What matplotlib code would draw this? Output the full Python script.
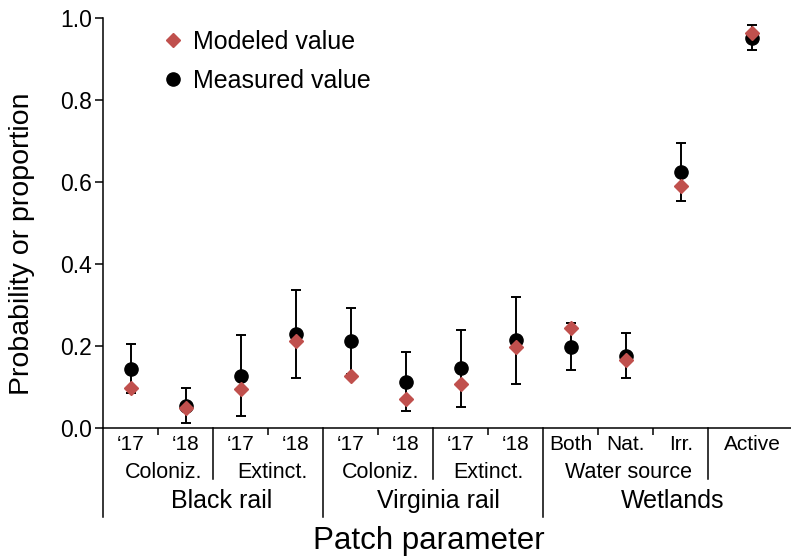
import matplotlib
matplotlib.use('Agg')
import matplotlib.pyplot as plt
from matplotlib.lines import Line2D
import numpy as np

plt.rcParams['font.family'] = ['Liberation Sans', 'DejaVu Sans']

# ---- data ----
categories = ["\u201817", "\u201818", "\u201817", "\u201818", "\u201817", "\u201818",
              "\u201817", "\u201818", "Both", "Nat.", "Irr.", "Active"]
x_pos = [0, 1, 2, 3, 4, 5, 6, 7, 8, 9, 10, 11.3]
modeled = [0.097, 0.048, 0.095, 0.211, 0.128, 0.070, 0.107, 0.197, 0.245, 0.166, 0.590, 0.963]
measured = [0.145, 0.054, 0.128, 0.229, 0.212, 0.112, 0.146, 0.214, 0.198, 0.176, 0.624, 0.952]
err_low = [0.085, 0.011, 0.030, 0.122, 0.132, 0.042, 0.052, 0.107, 0.141, 0.121, 0.553, 0.922]
err_high = [0.205, 0.098, 0.227, 0.337, 0.292, 0.185, 0.240, 0.320, 0.257, 0.232, 0.694, 0.984]

sub_labels = ["Coloniz.", "Extinct.", "Coloniz.", "Extinct.", "Water source"]
sub_label_x = [0.6, 2.57, 4.55, 6.5, 9.05]
group_labels = ["Black rail", "Virginia rail", "Wetlands"]
group_label_x = [1.65, 5.6, 9.85]
minor_tick_x = [0.5, 2.5, 4.5, 6.5, 8.5, 9.5]
sub_sep_x = [1.5, 5.5, 10.5]
group_sep_x = [-0.5, 3.5, 7.5]

y_ticks = [0.0, 0.2, 0.4, 0.6, 0.8, 1.0]

red = '#C0504D'

fig = plt.figure(figsize=(7.91, 5.58), dpi=100)
ax = fig.add_axes([103/791, 1 - 428/558, 1 - 103/791, 410/558])

measured_a = np.array(measured)
yerr = [measured_a - np.array(err_low), np.array(err_high) - measured_a]
ax.errorbar(x_pos, measured, yerr=yerr, fmt='o', color='black', ms=9.5,
            ecolor='black', elinewidth=1.4, capsize=3.3, capthick=1.4, zorder=3)
ax.plot(x_pos, modeled, 'D', color=red, ms=7.2, zorder=4, linestyle='none')

ax.set_xlim(-0.5, 12.0)
ax.set_ylim(0, 1.0)
ax.set_yticks(y_ticks)
ax.set_yticklabels([f"{v:.1f}" for v in y_ticks])
ax.tick_params(axis='y', direction='out', length=6, width=1.1, labelsize=16.5, pad=2)

ax.set_xticks(x_pos)
ax.set_xticklabels(categories)
ax.tick_params(axis='x', which='major', length=0, labelsize=15, pad=5)
ax.set_xticks(minor_tick_x, minor=True)
ax.tick_params(axis='x', which='minor', direction='out', length=5, width=1.1)

for s in ['top', 'right']:
    ax.spines[s].set_visible(False)
for s in ['left', 'bottom']:
    ax.spines[s].set_linewidth(1.1)

ah = 410.0
xt = ax.get_xaxis_transform()
for xs in sub_sep_x:
    ax.plot([xs, xs], [0, -51/ah], color='black', lw=1.1, transform=xt, clip_on=False)
for xs in group_sep_x:
    ax.plot([xs, xs], [0, -89/ah], color='black', lw=1.1, transform=xt, clip_on=False)

for lab, xl in zip(sub_labels, sub_label_x):
    ax.text(xl, -45/ah, lab, transform=xt, ha='center', va='center', fontsize=15.5)
for lab, xl in zip(group_labels, group_label_x):
    ax.text(xl, -73/ah, lab, transform=xt, ha='center', va='center', fontsize=18)

fig.text(429/791, 1 - 541/558, 'Patch parameter', ha='center', va='center', fontsize=22.5)
fig.text(22/791, 1 - 244/558, 'Probability or proportion', ha='center', va='center',
         rotation=90, fontsize=20.5)

h_mod = Line2D([], [], marker='D', color=red, ms=7.2, linestyle='none')
h_meas = Line2D([], [], marker='o', color='black', ms=9.5, linestyle='none')
leg = ax.legend(handles=[h_mod, h_meas], labels=['Modeled value', 'Measured value'],
                loc='upper left', bbox_to_anchor=(0.083, 0.971), frameon=False,
                fontsize=18, handlelength=1.0, handletextpad=0.3, labelspacing=0.6,
                borderpad=0, borderaxespad=0)

fig.savefig('out.png', dpi=100)
